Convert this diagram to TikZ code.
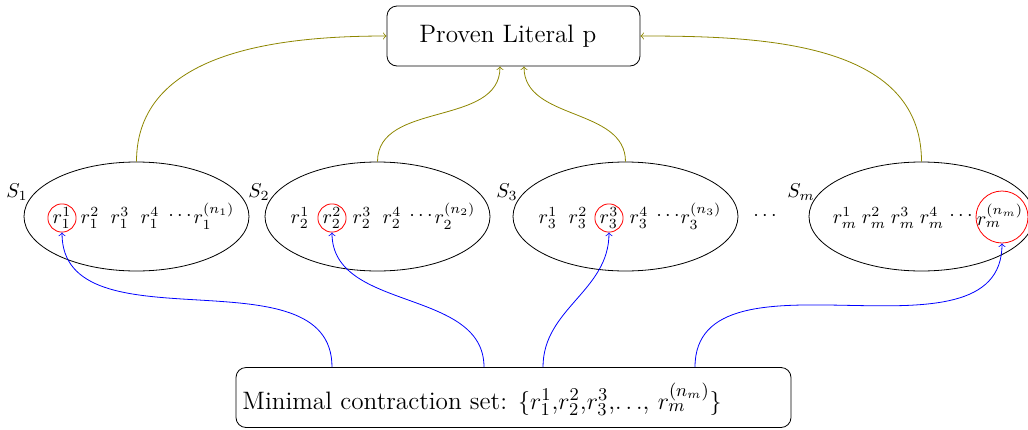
\documentclass[tikz,border=0pt]{standalone}
\usetikzlibrary{shapes.geometric}
\begin{document}
\begin{tikzpicture}[x=0.5pt,y=-0.5pt,
  box/.style={draw,rounded corners=5pt,minimum height=30pt,inner sep=0pt},
  setell/.style={draw,ellipse,minimum width=112.5pt,minimum height=54.5pt,inner sep=0pt},
  elem/.style={inner sep=0.5pt,font=\fontsize{10.3}{12}\selectfont},
  pick/.style={elem,draw=red,circle,inner sep=0pt,minimum size=13.5pt},
  slab/.style={inner sep=0pt,font=\fontsize{10.3}{12}\selectfont},
  up/.style={olive,->},
  sel/.style={blue,->}]
\useasboundingbox (0,0) rectangle (1028,429);
% top box
\node[box,minimum width=126.5pt] (top) at (513.5,36) {};
\node[font=\fontsize{12.6}{15}\selectfont,anchor=west,inner sep=0pt] (toptext) at (419,36) {Proven Literal p};
% bottom box
\node[box,minimum width=277.5pt] (bot) at (513.5,397.5) {};
\node[font=\fontsize{12.6}{15}\selectfont,anchor=west,inner sep=0pt] (bottext) at (242,399) {Minimal contraction set: $\{r_1^1$,$r_2^2$,$r_3^3$,$\ldots$, $r_m^{(n_m)}\}$};
% ellipses
\node[setell] (e1) at (136.5,216.5) {};
\node[setell] (e2) at (377.5,216.5) {};
\node[setell] (e3) at (625.5,216.5) {};
\node[setell] (em) at (921.5,216.5) {};
\node[slab] (s1) at (17,192) {$S_1$};
\node[slab] (s2) at (259,192) {$S_2$};
\node[slab] (s3) at (507,192) {$S_3$};
\node[slab] (sm) at (801,192) {$S_m$};
\node[elem] (dd) at (765,216) {$\cdots$};
% set 1
\node[pick] (a1) at (62,218) {$r_1^1$};
\node[elem] (a2) at (90,218) {$r_1^2$};
\node[elem] (a3) at (120,218) {$r_1^3$};
\node[elem] (a4) at (150,218) {$r_1^4$};
\node[elem] (a5) at (180,216) {$\cdots$};
\node[elem] (a6) at (214,216) {$r_1^{(n_1)}$};
% set 2
\node[elem] (b1) at (300,218) {$r_2^1$};
\node[pick] (b2) at (332,218) {$r_2^2$};
\node[elem] (b3) at (362,218) {$r_2^3$};
\node[elem] (b4) at (392,218) {$r_2^4$};
\node[elem] (b5) at (421,216) {$\cdots$};
\node[elem] (b6) at (455,216) {$r_2^{(n_2)}$};
% set 3
\node[elem] (c1) at (548,218) {$r_3^1$};
\node[elem] (c2) at (578,218) {$r_3^2$};
\node[pick] (c3) at (609,218) {$r_3^3$};
\node[elem] (c4) at (639,218) {$r_3^4$};
\node[elem] (c5) at (668,216) {$\cdots$};
\node[elem] (c6) at (701,216) {$r_3^{(n_3)}$};
% set m
\node[elem] (d1) at (845,218) {$r_m^1$};
\node[elem] (d2) at (874,218) {$r_m^2$};
\node[elem] (d3) at (903,218) {$r_m^3$};
\node[elem] (d4) at (932,218) {$r_m^4$};
\node[elem] (d5) at (961,216) {$\cdots$};
\node[elem] (d6) at (1000,216) {$r_m^{(n_m)}$};
\node[draw=red,circle,minimum size=26pt,inner sep=0pt] (dc) at (1002,217) {};
% olive connectors
\draw[up] (e1.north) to[out=90,in=180] (top.west);
\draw[up] (e2.north) to[out=90,in=-90] ([xshift=-6.75pt]top.south);
\draw[up] (e3.north) to[out=90,in=-90] ([xshift=5.25pt]top.south);
\draw[up] (em.north) to[out=90,in=0] (top.east);
% blue connectors
\draw[sel] ([xshift=-90.75pt]bot.north) to[out=90,in=-90] (a1.south);
\draw[sel] ([xshift=-14.75pt]bot.north) to[out=90,in=-90] (b2.south);
\draw[sel] ([xshift=14.75pt]bot.north) to[out=90,in=-90] (c3.south);
\draw[sel] ([xshift=90.75pt]bot.north) to[out=90,in=-90] (dc.south);
\end{tikzpicture}
\end{document}
